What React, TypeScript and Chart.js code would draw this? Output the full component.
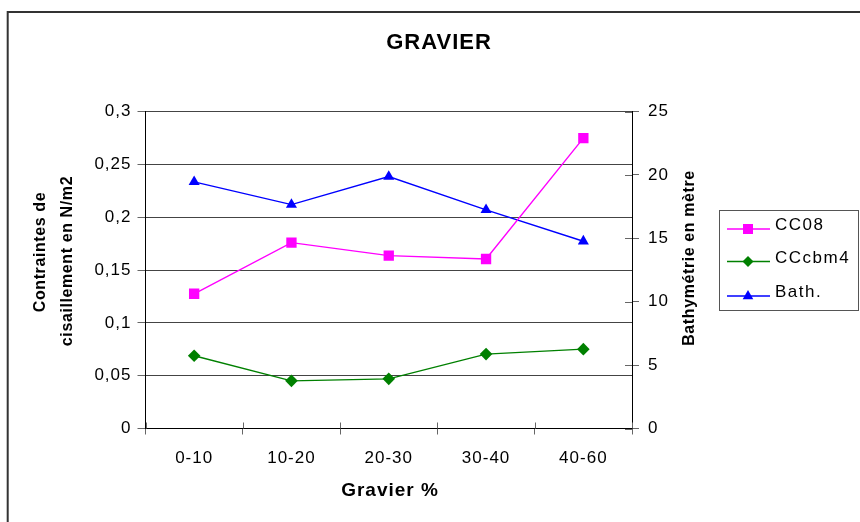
import React, { useEffect, useRef } from "react";
import { Chart, registerables } from "chart.js";

Chart.register(...registerables);

const categories = ["0-10", "10-20", "20-30", "30-40", "40-60"];
const cc08 = [0.1275, 0.1759, 0.1636, 0.1604, 0.2748];
const cccbm4 = [0.0688, 0.0451, 0.047, 0.0704, 0.0751];
const bath = [19.45, 17.66, 19.87, 17.24, 14.77];
const leftTicks = ["0", "0,05", "0,1", "0,15", "0,2", "0,25", "0,3"];
const rightTicks = ["0", "5", "10", "15", "20", "25"];
const seriesNames = ["CC08", "CCcbm4", "Bath."];

const FONT = "'Liberation Sans', Arial, sans-serif";

function drawMarker(ctx: CanvasRenderingContext2D, style: string, x: number, y: number, color: string) {
  ctx.fillStyle = color;
  ctx.beginPath();
  if (style === "rect") {
    ctx.rect(x - 5, y - 5, 10, 10);
  } else if (style === "rectRot") {
    ctx.moveTo(x, y - 5.5);
    ctx.lineTo(x + 5.5, y);
    ctx.lineTo(x, y + 5.5);
    ctx.lineTo(x - 5.5, y);
    ctx.closePath();
  } else {
    ctx.moveTo(x, y - 6);
    ctx.lineTo(x + 5.3, y + 3.2);
    ctx.lineTo(x - 5.3, y + 3.2);
    ctx.closePath();
  }
  ctx.fill();
}

const decorPlugin = {
  id: "decor",
  beforeDraw(chart: any) {
    const ctx = chart.ctx as CanvasRenderingContext2D;
    (ctx as any).letterSpacing = "1px";
  },
  beforeDatasetsDraw(chart: any) {
    const ctx = chart.ctx as CanvasRenderingContext2D;
    const area = chart.chartArea;
    const x = chart.scales.x;
    const y1 = chart.scales.y1;
    ctx.save();
    ctx.strokeStyle = "#666";
    ctx.lineWidth = 1;
    for (let i = 0; i <= categories.length; i++) {
      const px = Math.round(x.left + (i * (x.right - x.left)) / categories.length) + 0.5;
      ctx.beginPath();
      ctx.moveTo(px, area.bottom - 6);
      ctx.lineTo(px, area.bottom);
      ctx.stroke();
    }
    y1.ticks.forEach((t: any) => {
      const py = Math.round(y1.getPixelForValue(t.value)) + 0.5;
      ctx.beginPath();
      ctx.moveTo(area.right - 7, py);
      ctx.lineTo(area.right, py);
      ctx.stroke();
    });
    ctx.restore();
  },
  afterDraw(chart: any) {
    const ctx = chart.ctx as CanvasRenderingContext2D;
    ctx.save();
    ctx.strokeStyle = "#333";
    ctx.lineWidth = 2;
    ctx.strokeRect(7.7, 12, 900, 600);

    ctx.fillStyle = "#000";
    ctx.textBaseline = "middle";
    ctx.textAlign = "center";
    (ctx as any).letterSpacing = "1px";
    ctx.font = `bold 22px ${FONT}`;
    ctx.fillText("GRAVIER", 439, 43);
    ctx.font = `bold 19px ${FONT}`;
    ctx.fillText("Gravier %", 390, 491);
    (ctx as any).letterSpacing = "0.6px";
    ctx.font = `bold 16px ${FONT}`;
    ctx.save();
    ctx.translate(41, 252);
    ctx.rotate(-Math.PI / 2);
    ctx.fillText("Contraintes de", 0, 0);
    ctx.restore();
    ctx.save();
    ctx.translate(68, 261);
    ctx.rotate(-Math.PI / 2);
    ctx.fillText("cisaillement en N/m2", 0, 0);
    ctx.restore();
    (ctx as any).letterSpacing = "0.6px";
    ctx.save();
    ctx.translate(690, 258);
    ctx.rotate(-Math.PI / 2);
    ctx.fillText("Bathymétrie en mètre", 0, 0);
    ctx.restore();

    ctx.strokeStyle = "#555";
    ctx.lineWidth = 1;
    ctx.strokeRect(719.5, 210.5, 139, 100);
    const lineYs = [229, 261.5, 296];
    const textYs = [225, 258.5, 292.5];
    ctx.textAlign = "left";
    ctx.font = `17px ${FONT}`;
    (ctx as any).letterSpacing = "1.5px";
    chart.data.datasets.forEach((ds: any, i: number) => {
      ctx.strokeStyle = ds.borderColor;
      ctx.lineWidth = 1.4;
      ctx.beginPath();
      ctx.moveTo(727, lineYs[i]);
      ctx.lineTo(770, lineYs[i]);
      ctx.stroke();
      drawMarker(ctx, ds.pointStyle, 748, lineYs[i], ds.borderColor);
      ctx.fillStyle = "#000";
      ctx.fillText(seriesNames[i], 775, textYs[i]);
    });
    ctx.restore();
  },
};

export default function App() {
  const ref = useRef<HTMLCanvasElement | null>(null);

  useEffect(() => {
    document.body.style.margin = "0";
    const canvas = ref.current;
    if (!canvas) return;
    const tickFont = { family: FONT, size: 17 };
    const chart = new Chart(canvas, {
      type: "line",
      data: {
        labels: categories,
        datasets: [
          {
            label: seriesNames[0],
            data: cc08,
            yAxisID: "y",
            borderColor: "#FF00FF",
            backgroundColor: "#FF00FF",
            borderWidth: 1.4,
            pointStyle: "rect",
            pointRadius: 7.3,
            pointBorderWidth: 0,
            tension: 0,
          },
          {
            label: seriesNames[1],
            data: cccbm4,
            yAxisID: "y",
            borderColor: "#008000",
            backgroundColor: "#008000",
            borderWidth: 1.4,
            pointStyle: "rectRot",
            pointRadius: 6.3,
            pointBorderWidth: 0,
            tension: 0,
          },
          {
            label: seriesNames[2],
            data: bath,
            yAxisID: "y1",
            borderColor: "#0000FF",
            backgroundColor: "#0000FF",
            borderWidth: 1.4,
            pointStyle: "triangle",
            pointRadius: 6.4,
            pointBorderWidth: 0,
            tension: 0,
          },
        ],
      },
      options: {
        responsive: false,
        animation: false,
        layout: { padding: { top: 111.5, left: 0, right: 0, bottom: 0 } },
        plugins: {
          legend: { display: false },
          title: { display: false },
          tooltip: { enabled: false },
        },
        scales: {
          x: {
            type: "category",
            offset: true,
            grid: {
              offset: true,
              drawOnChartArea: false,
              tickLength: 6,
              tickColor: "#666",
            },
            border: { color: "#000", width: 1 },
            ticks: {
              font: tickFont,
              color: "#000",
              padding: 14,
              autoSkip: false,
              maxRotation: 0,
            },
            afterFit: (s: any) => {
              s.height = 93.5;
            },
          },
          y: {
            position: "left",
            min: 0,
            max: 0.3,
            ticks: {
              stepSize: 0.05,
              font: tickFont,
              color: "#000",
              padding: 6,
              callback: (_v: any, i: number) => leftTicks[i],
            },
            grid: { color: "#444", tickLength: 8, tickColor: "#666" },
            border: { color: "#000", width: 1 },
            afterFit: (s: any) => {
              s.width = 145.5;
            },
          },
          y1: {
            position: "right",
            min: 0,
            max: 25,
            ticks: {
              stepSize: 5,
              font: tickFont,
              color: "#000",
              padding: 9,
              callback: (_v: any, i: number) => rightTicks[i],
            },
            grid: { drawOnChartArea: false, tickLength: 7, tickColor: "#666" },
            border: { color: "#000", width: 1 },
            afterFit: (s: any) => {
              s.width = 228;
            },
          },
        },
      },
      plugins: [decorPlugin],
    });
    return () => chart.destroy();
  }, []);

  return (
    <div style={{ width: 860, height: 522, background: "#fff" }}>
      <canvas ref={ref} width={860} height={522} style={{ display: "block" }} />
    </div>
  );
}
